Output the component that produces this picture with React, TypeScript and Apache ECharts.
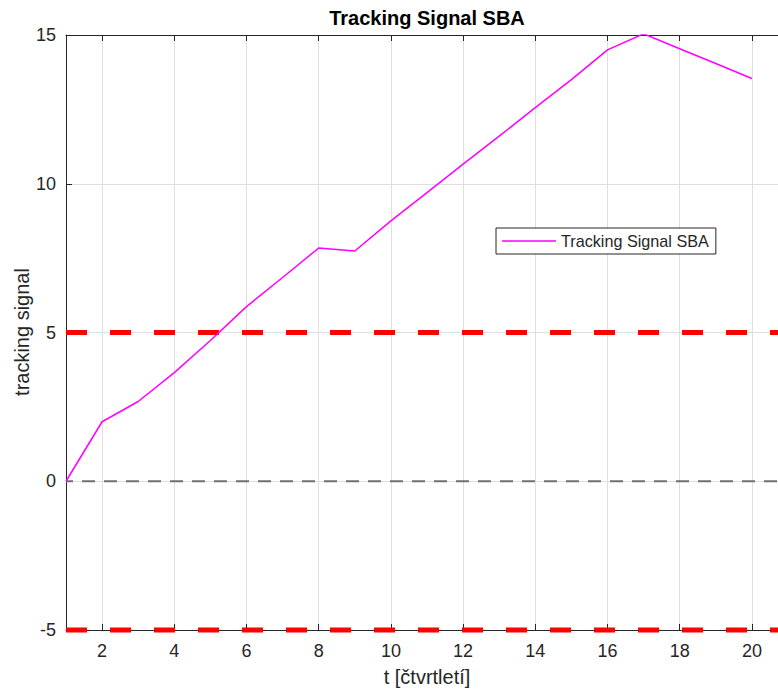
import React, { useEffect, useRef } from "react";
import * as echarts from "echarts";

const tValues = [1, 2, 3, 4, 5, 6, 7, 8, 9, 10, 11, 12, 13, 14, 15, 16, 17, 18, 19, 20];
const signalValues = [0, 2.0, 2.68, 3.65, 4.73, 5.87, 6.85, 7.84, 7.74, 8.75, 9.7, 10.66, 11.6, 12.56, 13.5, 14.5, 15.04, 14.54, 14.04, 13.54];
const xRange = [1, 21];
const xTicks = [2, 4, 6, 8, 10, 12, 14, 16, 18, 20];
const yRange = [-5, 15];
const yInterval = 5;
const upperLimit = 5;
const lowerLimit = -5;
const zeroLevel = 0;

const seriesName = "Tracking Signal SBA";
const titleText = "Tracking Signal SBA";
const xLabel = "t [čtvrtletí]";
const yLabel = "tracking signal";

const FONT = "'Liberation Sans', Arial, Helvetica, sans-serif";
const AX = "#262626";

export default function App() {
  const ref = useRef<HTMLDivElement>(null);
  useEffect(() => {
    document.body.style.margin = "0";
    document.body.style.overflow = "hidden";
    document.documentElement.style.overflow = "hidden";
    if (!ref.current) return;
    const chart = echarts.init(ref.current, null, { renderer: "svg" });
    const hLine = (y: number) => xRange.map((x) => [x, y]);
    const xCommon = {
      type: "value",
      min: xRange[0],
      max: xRange[1],
      axisLine: { show: true, onZero: false, lineStyle: { color: AX, width: 1 } },
    };
    chart.setOption({
      animation: false,
      backgroundColor: "#ffffff",
      textStyle: { fontFamily: FONT },
      grid: { left: 66, right: 2, top: 35, bottom: 61, containLabel: false },
      xAxis: [
        {
          ...xCommon,
          position: "bottom",
          axisTick: { show: true, inside: true, length: 6, customValues: xTicks, lineStyle: { color: AX } },
          axisLabel: { show: true, customValues: xTicks, color: AX, fontSize: 18, margin: 12, fontFamily: FONT },
          splitLine: { show: true, lineStyle: { color: "#dfdfdf", width: 1 } },
        },
        {
          ...xCommon,
          position: "top",
          axisTick: { show: true, inside: true, length: 6, customValues: xTicks, lineStyle: { color: AX } },
          axisLabel: { show: false },
          splitLine: { show: false },
        },
      ],
      yAxis: {
        type: "value",
        min: yRange[0],
        max: yRange[1],
        interval: yInterval,
        axisLine: { show: true, lineStyle: { color: AX, width: 1 } },
        axisTick: { show: true, inside: true, length: 6, lineStyle: { color: AX } },
        axisLabel: { color: AX, fontSize: 18, margin: 10, fontFamily: FONT },
        splitLine: { show: true, lineStyle: { color: "#dfdfdf", width: 1 } },
      },
      legend: {
        data: [{ name: seriesName, icon: "rect" }],
        left: 496,
        top: 228,
        orient: "horizontal",
        padding: [5, 7, 5, 6],
        itemWidth: 54,
        itemHeight: 1.5,
        borderColor: "#262626",
        borderWidth: 1,
        backgroundColor: "#ffffff",
        borderRadius: 0,
        textStyle: { fontSize: 16.2, color: AX, fontFamily: FONT, lineHeight: 16 },
      },
      series: [
        {
          name: "zero",
          type: "line",
          data: hLine(zeroLevel),
          symbol: "none",
          clip: false,
          lineStyle: { color: "#707070", width: 2, type: [13, 9], dashOffset: 6 },
          z: 2,
        },
        {
          name: "upper",
          type: "line",
          data: hLine(upperLimit),
          symbol: "none",
          clip: false,
          lineStyle: { color: "#ff0000", width: 5, type: [21, 23] },
          z: 3,
        },
        {
          name: "lower",
          type: "line",
          data: hLine(lowerLimit),
          symbol: "none",
          clip: false,
          lineStyle: { color: "#ff0000", width: 5, type: [21, 23] },
          z: 3,
        },
        {
          name: seriesName,
          type: "line",
          data: tValues.map((t, i) => [t, signalValues[i]]),
          symbol: "none",
          itemStyle: { color: "#ff00ff" },
          lineStyle: { color: "#ff00ff", width: 1.5 },
          z: 4,
        },
      ],
      graphic: [
        {
          type: "text",
          x: 427,
          y: 18,
          style: { text: titleText, font: `bold 20px ${FONT}`, fill: "#000000", textAlign: "center", textVerticalAlign: "middle" },
        },
        {
          type: "text",
          x: 427,
          y: 677,
          style: { text: xLabel, font: `20px ${FONT}`, fill: AX, textAlign: "center", textVerticalAlign: "middle" },
        },
        {
          type: "text",
          x: 22,
          y: 332,
          rotation: Math.PI / 2,
          style: { text: yLabel, font: `20px ${FONT}`, fill: AX, textAlign: "center", textVerticalAlign: "middle" },
        },
      ],
    });
    return () => chart.dispose();
  }, []);
  return <div ref={ref} style={{ width: 790, height: 691 }} />;
}
